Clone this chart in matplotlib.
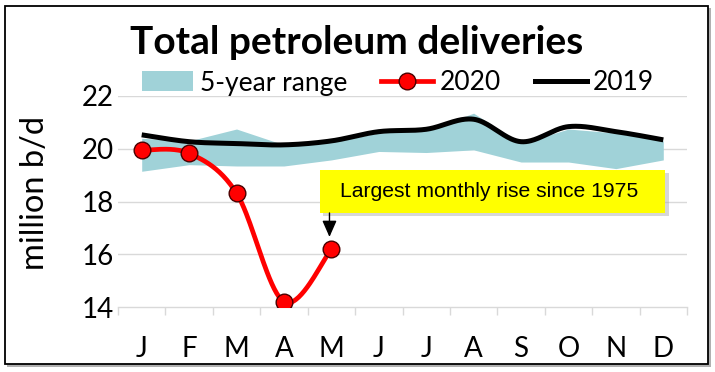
import numpy as np
import matplotlib
matplotlib.use('Agg')
import matplotlib.pyplot as plt
from matplotlib.patches import Rectangle, Patch
from matplotlib.lines import Line2D

# ---- data ----
months = ['J', 'F', 'M', 'A', 'M', 'J', 'J', 'A', 'S', 'O', 'N', 'D']
range_low = [19.15, 19.40, 19.35, 19.35, 19.58, 19.90, 19.86, 19.96, 19.50, 19.50, 19.25, 19.58]
range_high = [20.40, 20.30, 20.75, 20.15, 20.25, 20.60, 20.70, 21.35, 20.20, 20.75, 20.60, 20.30]
y2019 = [20.53, 20.27, 20.20, 20.15, 20.30, 20.65, 20.74, 21.12, 20.27, 20.84, 20.65, 20.34]
y2020 = [19.95, 19.83, 18.32, 14.21, 16.20]
yticks = [14, 16, 18, 20, 22]
title = 'Total petroleum deliveries'
ylabel = 'million b/d'
note = 'Largest monthly rise since 1975'

W, H = 715, 372
BAND = '#A0D2D8'
GRID = '#D9D9D9'
FONT = 'Lato'


def smooth(x, y, n=40):
    """Excel-style smoothed line (Catmull-Rom Bezier)."""
    x = np.asarray(x, float)
    y = np.asarray(y, float)
    P = np.column_stack([x, y])
    P = np.vstack([P[0], P, P[-1]])
    out = []
    t = np.linspace(0, 1, n)[:, None]
    for i in range(len(x) - 1):
        p0, p1, p2, p3 = P[i], P[i + 1], P[i + 2], P[i + 3]
        c1 = p1 + (p2 - p0) / 6
        c2 = p2 - (p3 - p1) / 6
        seg = ((1 - t) ** 3) * p1 + 3 * ((1 - t) ** 2) * t * c1 + 3 * (1 - t) * t ** 2 * c2 + t ** 3 * p2
        out.append(seg if i == 0 else seg[1:])
    out = np.vstack(out)
    return out[:, 0], out[:, 1]


def fx(px):
    return px / W


def fy(py):
    return 1 - py / H


fig = plt.figure(figsize=(W / 100, H / 100), dpi=100)
fig.patch.set_facecolor('white')

# outer border with shadow
fig.patches.append(Rectangle((fx(7.0), fy(366.5)), (708 - 4.5) / W, (364 - 5.5) / H,
                             transform=fig.transFigure, facecolor='#B0B0B0',
                             edgecolor='none', zorder=-3))
fig.patches.append(Rectangle((fx(4.5), fy(364)), (708 - 4.5) / W, (364 - 5.5) / H,
                             transform=fig.transFigure, facecolor='white',
                             edgecolor='black', lw=1.3, zorder=-2))

ax = fig.add_axes([fx(118), fy(307.3), (687 - 118) / W, (307.3 - 96) / H])
ax.set_facecolor('none')
x = np.arange(len(months))

# 5-year range band
ax.fill_between(x, range_low, range_high, color=BAND, lw=0, zorder=2)

# 2019 line
sx, sy = smooth(x, y2019)
ax.plot(sx, sy, color='black', lw=3.6, solid_capstyle='butt', zorder=3)

# 2020 line
x20 = x[:len(y2020)]
sx, sy = smooth(x20, y2020)
ax.plot(sx, sy, color='#FF0000', lw=3.4, solid_capstyle='butt', zorder=4)
ax.plot(x20, y2020, 'o', color='#FF0000', ms=12, mec='#4A0000', mew=1.0, zorder=5)

ax.set_xlim(-0.5, 11.5)
ax.set_ylim(14, 22)
ax.set_yticks(yticks)
ax.set_yticklabels([str(v) for v in yticks], fontfamily=FONT, fontsize=20)
ax.set_xticks(x)
ax.set_xticklabels(months, fontfamily=FONT, fontsize=20)
ax.set_xticks(np.arange(-0.5, 12, 1), minor=True)
ax.tick_params(axis='y', length=0, pad=3)
ax.tick_params(axis='x', which='major', length=0, pad=21)
ax.tick_params(axis='x', which='minor', length=6, width=1, color=GRID, direction='out')
for s in ['left', 'right', 'top']:
    ax.spines[s].set_visible(False)
ax.spines['bottom'].set_color(GRID)
ax.spines['bottom'].set_linewidth(1)
for v in yticks[1:]:
    ax.axhline(v, color=GRID, lw=1, zorder=1)

# annotation box
bx0, bx1 = (320 - 142.6) / 47.3, (665 - 142.6) / 47.3
by0, by1 = 14 + (307.3 - 213) / 26.4, 14 + (307.3 - 170) / 26.4
ax.add_patch(Rectangle((bx0 + 0.07, by0 - 0.12), bx1 - bx0, by1 - by0,
                       facecolor='#A8A8A8', edgecolor='none', alpha=0.45, zorder=6))
ax.add_patch(Rectangle((bx0, by0), bx1 - bx0, by1 - by0,
                       facecolor='#FFFF00', edgecolor='none', zorder=7))
ax.text((340 - 142.6) / 47.3, (by0 + by1) / 2, note, ha='left', va='center',
        fontfamily='Liberation Sans', fontsize=15.2, color='black', zorder=8)
ax.annotate('', xy=(3.96, 14 + (307.3 - 237) / 26.4), xytext=(3.96, by0),
            arrowprops=dict(arrowstyle='-|>,head_length=0.5,head_width=0.22',
                            color='black', lw=1, mutation_scale=20,
                            shrinkA=0, shrinkB=0), zorder=8)

# title and y label
fig.text(fx(357), fy(54), title, ha='center', va='baseline', fontfamily=FONT,
         fontweight='bold', fontsize=28)
fig.text(fx(35), fy(193), ylabel, ha='center', va='center', rotation=90,
         fontfamily=FONT, fontsize=23.5)

# legend
handles = [Patch(facecolor=BAND, edgecolor='none'),
           Line2D([], [], color='#FF0000', lw=3.4, marker='o', ms=12,
                  mfc='#FF0000', mec='#4A0000', mew=1.0),
           Line2D([], [], color='black', lw=3.6)]
fig.legend(handles, ['5-year range', '2020', '2019'], loc='center',
           bbox_to_anchor=(fx(398), fy(83)), ncol=3, frameon=False,
           prop={'family': FONT, 'size': 19}, handlelength=1.95,
           handleheight=0.8, handletextpad=0.25, columnspacing=1.3,
           borderpad=0, borderaxespad=0)

fig.savefig('out.png', dpi=100, facecolor='white')
